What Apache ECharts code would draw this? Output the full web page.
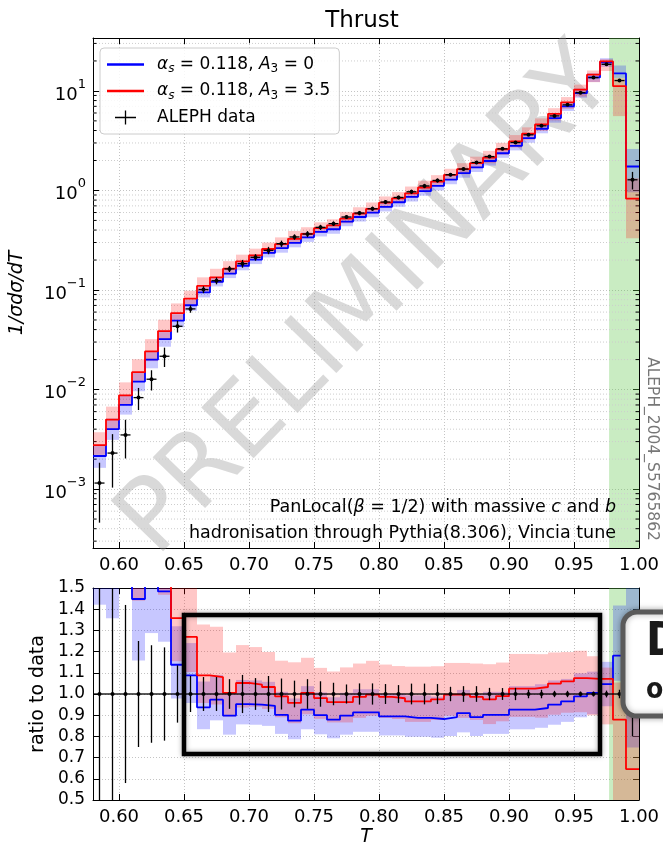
<!DOCTYPE html>
<html><head><meta charset="utf-8">
<script src="https://cdn.jsdelivr.net/npm/echarts@6/dist/echarts.min.js"></script>
<style>html,body{margin:0;padding:0;background:#fff}#c{width:663px;height:851px}</style>
</head><body><div id="c"></div>
<script>
// ---------------- data ----------------
const binEdges = [0.58,0.59,0.60,0.61,0.62,0.63,0.64,0.65,0.66,0.67,0.68,0.69,0.70,0.71,0.72,0.73,0.74,0.75,0.76,0.77,0.78,0.79,0.80,0.81,0.82,0.83,0.84,0.85,0.86,0.87,0.88,0.89,0.90,0.91,0.92,0.93,0.94,0.95,0.96,0.97,0.98,0.99,1.00];
// ALEPH data, 1/sigma dsigma/dT per bin
const dataVals = [0.00115,0.0023,0.0035,0.0083,0.0127,0.0216,0.0432,0.0646,0.101,0.124,
  0.163,0.184,0.213,0.250,0.292,0.341,0.365,0.426,0.464,0.541,
  0.593,0.655,0.765,0.851,0.97,1.11,1.26,1.44,1.64,1.91,
  2.19,2.62,3.03,3.62,4.46,5.61,7.24,9.6,13.6,18.5,
  12.7,1.28];
// relative data uncertainty
const dataRelErr = [0.6,0.55,0.42,0.25,0.23,0.22,0.135,0.085,0.08,0.08,
  0.07,0.09,0.075,0.085,0.073,0.063,0.07,0.06,0.053,0.045,
  0.05,0.05,0.047,0.042,0.049,0.049,0.047,0.034,0.037,0.037,
  0.029,0.028,0.029,0.02,0.02,0.015,0.015,0.012,0.012,0.016,
  0.02,0.2];
// MC / data ratios (lower panel)
const ratioBlue = [1.87,1.74,2.0,1.448,1.57,1.484,1.138,1.088,0.937,0.973,
  0.898,0.952,0.95,0.944,0.902,0.874,0.926,0.90,0.879,0.898,
  0.913,0.913,0.894,0.894,0.887,0.887,0.882,0.891,0.910,0.891,
  0.902,0.902,0.926,0.926,0.934,0.95,0.965,0.989,1.005,1.047,
  1.181,1.36];
const ratioRed = [2.4,2.17,2.5,1.8,1.9,1.79,1.358,1.269,1.088,1.08,
  1.005,1.052,1.044,1.033,0.989,0.958,1.005,0.981,0.962,0.962,
  0.986,0.997,0.986,0.98,0.965,0.965,0.975,0.997,0.997,0.986,
  0.975,0.99,1.025,1.025,1.033,1.049,1.06,1.075,1.071,1.071,
  0.879,0.646];
// relative widths of the MC uncertainty bands (up / down)
const redBandUp = [0.35,0.35,0.35,0.35,0.33,0.3,0.25,0.2,0.22,0.22,
  0.19,0.17,0.17,0.16,0.17,0.2,0.165,0.145,0.15,0.17,
  0.16,0.16,0.155,0.155,0.17,0.17,0.16,0.15,0.15,0.16,
  0.17,0.16,0.16,0.16,0.15,0.14,0.13,0.12,0.1,0.05,
  0.2,0.6];
const redBandDn = [0.2,0.2,0.2,0.2,0.2,0.18,0.15,0.13,0.12,0.12,
  0.11,0.11,0.1,0.1,0.1,0.1,0.1,0.1,0.1,0.1,
  0.1,0.1,0.1,0.1,0.1,0.1,0.1,0.1,0.11,0.11,
  0.12,0.12,0.13,0.13,0.14,0.14,0.14,0.15,0.16,0.2,
  0.5,0.6];
const blueBandUp = [0.28,0.28,0.25,0.22,0.2,0.18,0.16,0.14,0.13,0.12,
  0.12,0.12,0.12,0.12,0.12,0.12,0.12,0.12,0.12,0.12,
  0.12,0.12,0.12,0.12,0.12,0.12,0.12,0.12,0.12,0.12,
  0.12,0.12,0.12,0.12,0.12,0.12,0.11,0.11,0.1,0.1,
  0.2,0.5];
const blueBandDn = [0.24,0.22,0.2,0.2,0.18,0.16,0.14,0.12,0.11,0.1,
  0.1,0.1,0.1,0.1,0.1,0.1,0.1,0.1,0.1,0.1,
  0.1,0.1,0.1,0.1,0.1,0.1,0.1,0.1,0.1,0.1,
  0.1,0.1,0.1,0.1,0.1,0.1,0.1,0.1,0.1,0.1,
  0.1,0.45];
const xTicks = [0.60,0.65,0.70,0.75,0.80,0.85,0.90,0.95,1.00];
const excludedRange = [0.977, 1.00];
const seriesNames = ['αs = 0.118, A3 = 0', 'αs = 0.118, A3 = 3.5', 'ALEPH data'];

// ---------------- helpers ----------------
const F = "'DejaVu Sans', sans-serif";
const X0 = binEdges[0], X1 = binEdges[binEdges.length - 1];
const YMIN = 2.56e-4, YMAX = 34;
const BLUE = '#0000ff', RED = '#ff0000';
const BLUE_BAND = 'rgba(0,0,255,0.22)', RED_BAND = 'rgba(255,0,0,0.22)';

const topBlue = dataVals.map((d, i) => d * ratioBlue[i]);
const topRed = dataVals.map((d, i) => d * ratioRed[i]);

function histLine(vals) {
  const d = vals.map((v, i) => [binEdges[i], v]);
  d.push([X1, vals[vals.length - 1]]);
  return d;
}
function bandData(vals, up, dn) {
  return vals.map((v, i) => [binEdges[i], binEdges[i + 1], v * (1 - dn[i]), v * (1 + up[i])]);
}
function errData(vals, rel) {
  return vals.map((v, i) => [(binEdges[i] + binEdges[i + 1]) / 2, v, v * (1 - rel[i]), v * (1 + rel[i]), binEdges[i], binEdges[i + 1]]);
}
function bandRender(color) {
  return function (params, api) {
    const cs = params.coordSys;
    const a = api.coord([api.value(0), api.value(3)]);
    const b = api.coord([api.value(1), api.value(2)]);
    const r = echarts.graphic.clipRectByRect(
      { x: a[0], y: a[1], width: b[0] - a[0], height: b[1] - a[1] },
      { x: cs.x, y: cs.y, width: cs.width, height: cs.height });
    return r && { type: 'rect', shape: r, style: { fill: color } };
  };
}
function errRender(armHalf) {
  return function (params, api) {
    const cs = params.coordSys;
    const xc = api.value(0), v = api.value(1);
    const c = api.coord([xc, v]);
    const clampY = y => Math.min(Math.max(y, cs.y), cs.y + cs.height);
    const yl = clampY(api.coord([xc, api.value(2)])[1]);
    const yh = clampY(api.coord([xc, api.value(3)])[1]);
    let ax0, ax1;
    if (armHalf > 0) { ax0 = c[0] - armHalf; ax1 = c[0] + armHalf; }
    else { ax0 = api.coord([api.value(4), v])[0]; ax1 = api.coord([api.value(5), v])[0]; }
    return { type: 'group', children: [
      { type: 'line', shape: { x1: c[0], y1: yh, x2: c[0], y2: yl }, style: { stroke: '#000', lineWidth: 1.3 } },
      { type: 'line', shape: { x1: ax0, y1: c[1], x2: ax1, y2: c[1] }, style: { stroke: '#000', lineWidth: 1.3 } },
      { type: 'circle', shape: { cx: c[0], cy: c[1], r: 2 }, style: { fill: '#000' } }
    ] };
  };
}
// minor log ticks (2..9 x 10^n) inside the axis range
const minorVals = [];
for (let e = -4; e <= 1; e++) for (let k = 2; k <= 9; k++) {
  const v = k * Math.pow(10, e);
  if (v > YMIN && v < YMAX) minorVals.push(v);
}

const gridLine = { show: true, lineStyle: { type: [1, 2], color: '#c4c4c4', width: 1 } };
const axLine = { show: true, onZero: false, lineStyle: { color: '#000', width: 1 } };
const tickIn = { show: true, inside: true, length: 6, lineStyle: { color: '#000', width: 1 } };
const lblFont = { fontFamily: F, fontSize: 18, color: '#000' };

function xAxisBottom(gi, withName) {
  const o = { type: 'value', gridIndex: gi, min: X0, max: X1, position: 'bottom',
    axisLine: axLine, axisTick: Object.assign({ customValues: xTicks }, tickIn),
    axisLabel: Object.assign({ customValues: xTicks, margin: 8, formatter: v => v.toFixed(2) }, lblFont),
    splitLine: gridLine };
  if (withName) Object.assign(o, { name: 'T', nameLocation: 'middle', nameGap: 28,
    nameTextStyle: { fontFamily: F, fontSize: 19, fontStyle: 'italic', color: '#000' } });
  return o;
}
function xAxisTop(gi) {
  return { type: 'value', gridIndex: gi, min: X0, max: X1, position: 'top',
    axisLine: axLine, axisTick: Object.assign({ customValues: xTicks }, tickIn),
    axisLabel: { show: false }, splitLine: { show: false } };
}
const supMinus = e => (e < 0 ? '\u2212' + (-e) : '' + e);

const option = {
  animation: false,
  backgroundColor: '#fff',
  title: { text: 'Thrust', left: 357, top: 5, textAlign: 'center',
    textStyle: { fontFamily: F, fontSize: 23, fontWeight: 'normal', color: '#000' } },
  grid: [
    { left: 93, top: 38, width: 546, height: 510 },
    { left: 93, top: 588, width: 546, height: 212 }
  ],
  xAxis: [xAxisBottom(0, false), xAxisTop(0), xAxisBottom(1, true), xAxisTop(1)],
  yAxis: [
    { type: 'log', logBase: 10, gridIndex: 0, min: YMIN, max: YMAX, position: 'left',
      axisLine: axLine, axisTick: tickIn, splitLine: gridLine,
      name: '1/σdσ/dT', nameLocation: 'middle', nameRotate: 90, nameGap: 66,
      nameTextStyle: { fontFamily: F, fontSize: 19, fontStyle: 'italic', color: '#000' },
      axisLabel: { margin: 7, showMinLabel: false, showMaxLabel: false,
        formatter: function (v) {
          const e = Math.log10(v), r = Math.round(e);
          if (Math.abs(e - r) > 1e-6) return '';
          return '{b|10}{s|' + supMinus(r) + '}';
        },
        rich: { b: { fontFamily: F, fontSize: 18, color: '#000', lineHeight: 26, verticalAlign: 'bottom' },
                s: { fontFamily: F, fontSize: 13, color: '#000', lineHeight: 26, verticalAlign: 'top' } } } },
    { type: 'log', logBase: 10, gridIndex: 0, min: YMIN, max: YMAX, position: 'right',
      axisLine: axLine, axisTick: tickIn, splitLine: { show: false }, axisLabel: { show: false } },
    { type: 'value', gridIndex: 1, min: 0.5, max: 1.5, interval: 0.1, position: 'left',
      axisLine: axLine, axisTick: tickIn, splitLine: gridLine,
      name: 'ratio to data', nameLocation: 'middle', nameRotate: 90, nameGap: 45,
      nameTextStyle: { fontFamily: F, fontSize: 19, color: '#000' },
      axisLabel: { margin: 8, fontFamily: F, fontSize: 17, color: '#000', formatter: v => v.toFixed(1) } },
    { type: 'value', gridIndex: 1, min: 0.5, max: 1.5, interval: 0.1, position: 'right',
      axisLine: axLine, axisTick: tickIn, splitLine: { show: false }, axisLabel: { show: false } }
  ],
  legend: {
    orient: 'vertical', left: 100, top: 48, padding: [6, 9, 6, 7],
    itemWidth: 45, itemHeight: 14, itemGap: 5.5, selectedMode: false,
    backgroundColor: 'rgba(255,255,255,0.85)', borderColor: '#cccccc', borderWidth: 1, borderRadius: 4,
    data: [
      { name: seriesNames[0], icon: 'path://M0,0h0.01v0.01h-0.01z M45,14h-0.01v-0.01h0.01z M0,5.8h37v2.4h-37z', itemStyle: { color: BLUE, borderWidth: 0 } },
      { name: seriesNames[1], icon: 'path://M0,0h0.01v0.01h-0.01z M45,14h-0.01v-0.01h0.01z M0,5.8h37v2.4h-37z', itemStyle: { color: RED, borderWidth: 0 } },
      { name: seriesNames[2], icon: 'path://M0,0h0.01v0.01h-0.01z M45,14h-0.01v-0.01h0.01z M8,6.35h21v1.3h-21z M17.85,0h1.3v14h-1.3z', itemStyle: { color: '#000', borderWidth: 0 } }
    ],
    formatter: function (name) {
      if (name === seriesNames[0]) return '{i|α}{si|s}{n| = 0.118, }{i|A}{sd|3}{n| = 0}';
      if (name === seriesNames[1]) return '{i|α}{si|s}{n| = 0.118, }{i|A}{sd|3}{n| = 3.5}';
      return '{n|' + name + '}';
    },
    textStyle: { fontFamily: F, fontSize: 17, color: '#000', lineHeight: 21,
      rich: {
        n: { fontFamily: F, fontSize: 17, color: '#000', lineHeight: 21 },
        i: { fontFamily: F, fontSize: 17, fontStyle: 'italic', color: '#000', lineHeight: 21 },
        si: { fontFamily: F, fontSize: 12, fontStyle: 'italic', color: '#000', lineHeight: 21, verticalAlign: 'bottom' },
        sd: { fontFamily: F, fontSize: 12, color: '#000', lineHeight: 21, verticalAlign: 'bottom' }
      } }
  },
  series: [
    // ---- upper panel ----
    { type: 'custom', name: 'minor', xAxisIndex: 0, yAxisIndex: 0, silent: true, z: 1,
      data: minorVals.map(v => [X0, v]), encode: { x: 0, y: 1 },
      renderItem: function (params, api) {
        const v = api.value(1);
        const a = api.coord([X0, v]), b = api.coord([X1, v]);
        return { type: 'group', children: [
          { type: 'line', shape: { x1: a[0], y1: a[1], x2: b[0], y2: b[1] }, style: { stroke: '#cdcdcd', lineWidth: 1, lineDash: [1, 2] } },
          { type: 'line', shape: { x1: a[0], y1: a[1], x2: a[0] + 3.5, y2: a[1] }, style: { stroke: '#000', lineWidth: 1 } },
          { type: 'line', shape: { x1: b[0] - 3.5, y1: b[1], x2: b[0], y2: b[1] }, style: { stroke: '#000', lineWidth: 1 } }
        ] };
      } },
    { type: 'custom', name: 'blueBandTop', xAxisIndex: 0, yAxisIndex: 0, silent: true, z: 2,
      data: bandData(topBlue, blueBandUp, blueBandDn), encode: { x: [0, 1], y: [2, 3] },
      renderItem: bandRender(BLUE_BAND),
      markArea: { silent: true, itemStyle: { color: 'rgba(100,200,80,0.35)' },
        data: [[{ xAxis: excludedRange[0] }, { xAxis: excludedRange[1] }]] } },
    { type: 'custom', name: 'redBandTop', xAxisIndex: 0, yAxisIndex: 0, silent: true, z: 2,
      data: bandData(topRed, redBandUp, redBandDn), encode: { x: [0, 1], y: [2, 3] },
      renderItem: bandRender(RED_BAND) },
    { type: 'line', name: seriesNames[0], xAxisIndex: 0, yAxisIndex: 0, data: histLine(topBlue), step: 'end',
      symbol: 'none', z: 3, lineStyle: { color: BLUE, width: 1.8 }, itemStyle: { color: BLUE } },
    { type: 'line', name: seriesNames[1], xAxisIndex: 0, yAxisIndex: 0, data: histLine(topRed), step: 'end',
      symbol: 'none', z: 3, lineStyle: { color: RED, width: 1.8 }, itemStyle: { color: RED } },
    { type: 'custom', name: seriesNames[2], xAxisIndex: 0, yAxisIndex: 0, z: 4, itemStyle: { color: '#000' },
      data: errData(dataVals, dataRelErr), encode: { x: 0, y: [1, 2, 3] }, renderItem: errRender(5) },
    // ---- ratio panel ----
    { type: 'custom', name: 'blueBandRatio', xAxisIndex: 2, yAxisIndex: 2, silent: true, z: 2,
      data: bandData(ratioBlue, blueBandUp, blueBandDn), encode: { x: [0, 1], y: [2, 3] },
      renderItem: bandRender(BLUE_BAND),
      markArea: { silent: true, itemStyle: { color: 'rgba(100,200,80,0.35)' },
        data: [[{ xAxis: excludedRange[0] }, { xAxis: excludedRange[1] }]] } },
    { type: 'custom', name: 'redBandRatio', xAxisIndex: 2, yAxisIndex: 2, silent: true, z: 2,
      data: bandData(ratioRed, redBandUp, redBandDn), encode: { x: [0, 1], y: [2, 3] },
      renderItem: bandRender(RED_BAND) },
    { type: 'line', name: seriesNames[0], xAxisIndex: 2, yAxisIndex: 2, data: histLine(ratioBlue), step: 'end',
      symbol: 'none', z: 3, lineStyle: { color: BLUE, width: 1.8 }, itemStyle: { color: BLUE } },
    { type: 'line', name: seriesNames[1], xAxisIndex: 2, yAxisIndex: 2, data: histLine(ratioRed), step: 'end',
      symbol: 'none', z: 3, lineStyle: { color: RED, width: 1.8 }, itemStyle: { color: RED } },
    { type: 'custom', name: seriesNames[2], xAxisIndex: 2, yAxisIndex: 2, z: 4, itemStyle: { color: '#000' },
      data: errData(dataVals.map(() => 1), dataRelErr), encode: { x: 0, y: [1, 2, 3] }, renderItem: errRender(0) }
  ],
  graphic: [
    { type: 'text', x: 368, y: 303, rotation: 0.80, z: 1, silent: true,
      style: { text: 'PRELIMINARY', fontSize: 100, fontFamily: F, fill: 'rgba(150,150,150,0.36)',
        align: 'center', verticalAlign: 'middle', textAlign: 'center', textVerticalAlign: 'middle' } },
    { type: 'text', x: 616, y: 507, z: 10, silent: true,
      style: { text: '{n|PanLocal(}{i|β}{n| = 1/2) with massive }{i|c}{n| and }{i|b}',
        rich: { n: { fontSize: 17.5, fontFamily: F, fill: '#000' }, i: { fontSize: 17.5, fontFamily: F, fontStyle: 'italic', fill: '#000' } },
        align: 'right', verticalAlign: 'middle', textAlign: 'right', textVerticalAlign: 'middle' } },
    { type: 'text', x: 616, y: 533, z: 10, silent: true,
      style: { text: 'hadronisation through Pythia(8.306), Vincia tune', fontSize: 17.5, fontFamily: F, fill: '#000',
        align: 'right', verticalAlign: 'middle', textAlign: 'right', textVerticalAlign: 'middle' } },
    { type: 'text', x: 652, y: 449, rotation: -Math.PI / 2, z: 10, silent: true,
      style: { text: 'ALEPH_2004_S5765862', fontSize: 15.5, fontFamily: F, fill: '#777',
        align: 'center', verticalAlign: 'middle', textAlign: 'center', textVerticalAlign: 'middle' } },
    { type: 'rect', z: 100, silent: true, shape: { x: 184, y: 615, width: 416, height: 139 },
      style: { fill: 'rgba(0,0,0,0)', stroke: '#000', lineWidth: 4.5, shadowBlur: 5, shadowColor: 'rgba(0,0,0,0.35)' } },
    { type: 'rect', z: 100, silent: true, shape: { x: 623, y: 612, width: 80, height: 104, r: 14 },
      style: { fill: '#fff', stroke: '#5a5a5a', lineWidth: 5, shadowBlur: 6, shadowColor: 'rgba(0,0,0,0.3)' } },
    { type: 'text', x: 646, y: 643, z: 101, silent: true,
      style: { text: 'D', fontSize: 46, fontWeight: 'bold', fontFamily: "'Liberation Sans Narrow','DejaVu Sans Condensed',sans-serif",
        fill: '#1a1a1a', verticalAlign: 'middle', textVerticalAlign: 'middle' } },
    { type: 'text', x: 646, y: 691, z: 101, silent: true,
      style: { text: 'on', fontSize: 28, fontWeight: 'bold', fontFamily: "'Liberation Sans Narrow','DejaVu Sans Condensed',sans-serif",
        fill: '#1a1a1a', verticalAlign: 'middle', textVerticalAlign: 'middle' } }
  ]
};
const chart = echarts.init(document.getElementById('c'), null, { renderer: 'canvas', width: 663, height: 851 });
chart.setOption(option);
</script>
</body></html>
